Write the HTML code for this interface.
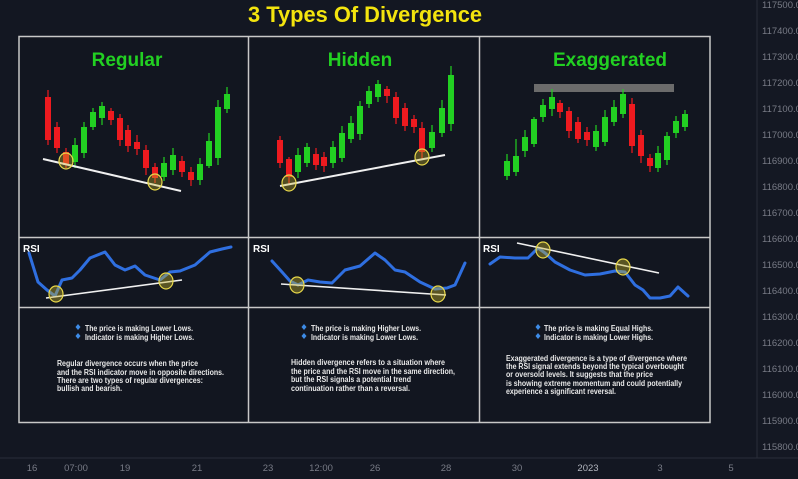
<!DOCTYPE html>
<html><head><meta charset="utf-8"><style>
html,body{margin:0;padding:0;background:#131722;}
svg{display:block;font-family:"Liberation Sans",sans-serif;}
.g rect{fill:#22d022}.r rect{fill:#ee1a1f}
.g line{stroke:#22d022;stroke-width:1.2}.r line{stroke:#ee1a1f;stroke-width:1.2}
.ax{fill:#787b86;font-size:9.5px}
.t{fill:#e8e8e8;font-size:8px;font-weight:bold}
</style></head><body>
<svg width="798" height="479" viewBox="0 0 798 479">
<rect width="798" height="479" fill="#131722"/>
<rect x="757" y="0" width="41" height="458" fill="#141823"/>
<line x1="757" y1="0" x2="757" y2="458" stroke="#2a2e39"/>
<line x1="0" y1="458" x2="798" y2="458" stroke="#2a2e39"/>
<g class="ax">
<text x="762" y="8">117500.0</text><text x="762" y="34">117400.0</text><text x="762" y="60">117300.0</text><text x="762" y="86">117200.0</text><text x="762" y="112">117100.0</text><text x="762" y="138">117000.0</text><text x="762" y="164">116900.0</text><text x="762" y="190">116800.0</text><text x="762" y="216">116700.0</text><text x="762" y="242">116600.0</text><text x="762" y="268">116500.0</text><text x="762" y="294">116400.0</text><text x="762" y="320">116300.0</text><text x="762" y="346">116200.0</text><text x="762" y="372">116100.0</text><text x="762" y="398">116000.0</text><text x="762" y="424">115900.0</text><text x="762" y="450">115800.0</text>
<g text-anchor="middle"><text x="32" y="471">16</text><text x="76" y="471">07:00</text><text x="125" y="471">19</text><text x="197" y="471">21</text><text x="268" y="471">23</text><text x="321" y="471">12:00</text><text x="375" y="471">26</text><text x="446" y="471">28</text><text x="517" y="471">30</text><text x="588" y="471" fill="#b2b5be">2023</text><text x="660" y="471">3</text><text x="731" y="471">5</text></g>
</g>
<text x="365" y="22" text-anchor="middle" fill="#f3e40e" font-size="22" font-weight="bold" textLength="234" lengthAdjust="spacingAndGlyphs">3 Types Of Divergence</text>
<rect x="19" y="36.5" width="691" height="386" fill="#121620" stroke="#c8c8c8" stroke-width="1.5"/>
<line x1="248.5" y1="36" x2="248.5" y2="423" stroke="#c8c8c8" stroke-width="1.5"/>
<line x1="479.5" y1="36" x2="479.5" y2="423" stroke="#c8c8c8" stroke-width="1.5"/>
<line x1="19" y1="237.5" x2="710" y2="237.5" stroke="#c8c8c8" stroke-width="1.5"/>
<line x1="19" y1="307.5" x2="710" y2="307.5" stroke="#c8c8c8" stroke-width="1.5"/>
<g fill="#22d022" font-size="19" font-weight="bold" text-anchor="middle">
<text x="127" y="66">Regular</text><text x="360" y="66">Hidden</text><text x="610" y="66">Exaggerated</text></g>
<rect x="534" y="84" width="140" height="8" fill="#6b6b6b"/>
<g class="r">
<line x1="48" y1="90" x2="48" y2="145"/><rect x="45" y="97" width="6" height="43"/>
<line x1="57" y1="122" x2="57" y2="153"/><rect x="54" y="127" width="6" height="21"/>
<line x1="66" y1="148" x2="66" y2="168"/><rect x="63" y="152" width="6" height="13"/>
<line x1="111" y1="108" x2="111" y2="125"/><rect x="108" y="111" width="6" height="9"/>
<line x1="120" y1="114" x2="120" y2="146"/><rect x="117" y="118" width="6" height="22"/>
<line x1="128" y1="125" x2="128" y2="152"/><rect x="125" y="130" width="6" height="16"/>
<line x1="137" y1="135" x2="137" y2="155"/><rect x="134" y="142" width="6" height="7"/>
<line x1="146" y1="145" x2="146" y2="175"/><rect x="143" y="150" width="6" height="18"/>
<line x1="155" y1="163" x2="155" y2="183"/><rect x="152" y="167" width="6" height="11"/>
<line x1="182" y1="156" x2="182" y2="177"/><rect x="179" y="161" width="6" height="11"/>
<line x1="191" y1="167" x2="191" y2="186"/><rect x="188" y="172" width="6" height="8"/>
</g>
<g class="g">
<line x1="75" y1="138" x2="75" y2="168"/><rect x="72" y="145" width="6" height="17"/>
<line x1="84" y1="122" x2="84" y2="158"/><rect x="81" y="127" width="6" height="26"/>
<line x1="93" y1="108" x2="93" y2="130"/><rect x="90" y="112" width="6" height="15"/>
<line x1="102" y1="102" x2="102" y2="125"/><rect x="99" y="106" width="6" height="12"/>
<line x1="164" y1="157" x2="164" y2="181"/><rect x="161" y="163" width="6" height="14"/>
<line x1="173" y1="148" x2="173" y2="175"/><rect x="170" y="155" width="6" height="15"/>
<line x1="200" y1="158" x2="200" y2="185"/><rect x="197" y="164" width="6" height="16"/>
<line x1="209" y1="133" x2="209" y2="168"/><rect x="206" y="141" width="6" height="25"/>
<line x1="218" y1="100" x2="218" y2="165"/><rect x="215" y="107" width="6" height="51"/>
<line x1="227" y1="87" x2="227" y2="113"/><rect x="224" y="94" width="6" height="15"/>
</g>
<line x1="43" y1="159" x2="181" y2="191" stroke="#f0f0f0" stroke-width="2"/>
<g class="r">
<line x1="280" y1="136" x2="280" y2="168"/><rect x="277" y="140" width="6" height="23"/>
<line x1="289" y1="157" x2="289" y2="185"/><rect x="286" y="159" width="6" height="18"/>
<line x1="316" y1="148" x2="316" y2="170"/><rect x="313" y="154" width="6" height="11"/>
<line x1="324" y1="152" x2="324" y2="172"/><rect x="321" y="157" width="6" height="9"/>
<line x1="387" y1="86" x2="387" y2="103"/><rect x="384" y="89" width="6" height="7"/>
<line x1="396" y1="92" x2="396" y2="124"/><rect x="393" y="97" width="6" height="21"/>
<line x1="405" y1="103" x2="405" y2="131"/><rect x="402" y="108" width="6" height="18"/>
<line x1="414" y1="115" x2="414" y2="133"/><rect x="411" y="119" width="6" height="8"/>
<line x1="422" y1="122" x2="422" y2="160"/><rect x="419" y="128" width="6" height="24"/>
</g>
<g class="g">
<line x1="298" y1="148" x2="298" y2="178"/><rect x="295" y="155" width="6" height="17"/>
<line x1="307" y1="143" x2="307" y2="167"/><rect x="304" y="147" width="6" height="16"/>
<line x1="333" y1="141" x2="333" y2="168"/><rect x="330" y="147" width="6" height="16"/>
<line x1="342" y1="126" x2="342" y2="162"/><rect x="339" y="133" width="6" height="25"/>
<line x1="351" y1="116" x2="351" y2="143"/><rect x="348" y="123" width="6" height="16"/>
<line x1="360" y1="101" x2="360" y2="140"/><rect x="357" y="106" width="6" height="28"/>
<line x1="369" y1="86" x2="369" y2="108"/><rect x="366" y="91" width="6" height="13"/>
<line x1="378" y1="80" x2="378" y2="102"/><rect x="375" y="84" width="6" height="13"/>
<line x1="432" y1="125" x2="432" y2="152"/><rect x="429" y="132" width="6" height="16"/>
<line x1="442" y1="100" x2="442" y2="137"/><rect x="439" y="108" width="6" height="25"/>
<line x1="451" y1="66" x2="451" y2="131"/><rect x="448" y="75" width="6" height="49"/>
</g>
<line x1="280" y1="186" x2="445" y2="155" stroke="#f0f0f0" stroke-width="2"/>
<g class="g">
<line x1="507" y1="154" x2="507" y2="180"/><rect x="504" y="161" width="6" height="15"/>
<line x1="516" y1="139" x2="516" y2="176"/><rect x="513" y="156" width="6" height="16"/>
<line x1="525" y1="130" x2="525" y2="157"/><rect x="522" y="137" width="6" height="14"/>
<line x1="534" y1="117" x2="534" y2="147"/><rect x="531" y="119" width="6" height="25"/>
<line x1="543" y1="99" x2="543" y2="122"/><rect x="540" y="105" width="6" height="12"/>
<line x1="552" y1="89" x2="552" y2="116"/><rect x="549" y="97" width="6" height="12"/>
<line x1="596" y1="125" x2="596" y2="151"/><rect x="593" y="131" width="6" height="16"/>
<line x1="605" y1="110" x2="605" y2="146"/><rect x="602" y="117" width="6" height="25"/>
<line x1="614" y1="100" x2="614" y2="126"/><rect x="611" y="107" width="6" height="15"/>
<line x1="623" y1="89" x2="623" y2="118"/><rect x="620" y="94" width="6" height="20"/>
<line x1="658" y1="146" x2="658" y2="172"/><rect x="655" y="153" width="6" height="15"/>
<line x1="667" y1="132" x2="667" y2="165"/><rect x="664" y="136" width="6" height="24"/>
<line x1="676" y1="116" x2="676" y2="138"/><rect x="673" y="121" width="6" height="12"/>
<line x1="685" y1="110" x2="685" y2="131"/><rect x="682" y="114" width="6" height="13"/>
</g>
<g class="r">
<line x1="560" y1="100" x2="560" y2="118"/><rect x="557" y="103" width="6" height="9"/>
<line x1="569" y1="107" x2="569" y2="138"/><rect x="566" y="111" width="6" height="20"/>
<line x1="578" y1="117" x2="578" y2="143"/><rect x="575" y="122" width="6" height="17"/>
<line x1="587" y1="127" x2="587" y2="146"/><rect x="584" y="132" width="6" height="8"/>
<line x1="632" y1="98" x2="632" y2="153"/><rect x="629" y="104" width="6" height="42"/>
<line x1="641" y1="130" x2="641" y2="163"/><rect x="638" y="135" width="6" height="21"/>
<line x1="650" y1="154" x2="650" y2="172"/><rect x="647" y="158" width="6" height="8"/>
</g>
<g fill="rgba(200,180,40,0.35)" stroke="#e8d84a" stroke-width="1.2">
<ellipse cx="66" cy="161" rx="7" ry="8"/><ellipse cx="155" cy="182" rx="7" ry="8"/>
<ellipse cx="289" cy="183" rx="7" ry="8"/><ellipse cx="422" cy="157" rx="7" ry="8"/>
</g>
<g fill="#ffffff" font-size="10" font-weight="bold"><text x="23" y="252">RSI</text><text x="253" y="252">RSI</text><text x="483" y="252">RSI</text></g>
<g fill="none" stroke="#2f6fe0" stroke-width="3" stroke-linejoin="round" stroke-linecap="round">
<polyline points="29,253 38,282 47,290 55,296 62,280 72,278 80,270 90,258 105,252 115,265 125,270 135,266 145,275 160,280 170,272 180,271 195,265 210,252 222,249 231,247"/>
<polyline points="272,261 282,272 290,281 298,285 308,280 320,282 332,283 345,270 360,266 375,253 385,260 395,270 405,272 420,282 435,289 447,288 455,285 465,263"/>
<polyline points="490,264 500,257 515,258 528,258 538,248 545,253 555,262 570,270 585,275 600,274 615,271 625,272 635,285 643,290 650,298 660,298 670,296 678,287 688,296"/>
</g>
<g stroke="#f0f0f0" stroke-width="1.6">
<line x1="46" y1="298" x2="182" y2="280"/><line x1="281" y1="284" x2="446" y2="295"/><line x1="517" y1="243" x2="659" y2="273"/></g>
<g fill="rgba(200,180,40,0.4)" stroke="#e8d84a" stroke-width="1.2">
<ellipse cx="56" cy="294" rx="7" ry="8"/><ellipse cx="166" cy="281" rx="7" ry="8"/>
<ellipse cx="297" cy="285" rx="7" ry="8"/><ellipse cx="438" cy="294" rx="7" ry="8"/>
<ellipse cx="543" cy="250" rx="7" ry="8"/><ellipse cx="623" cy="267" rx="7" ry="8"/>
</g>
<g fill="#3d8be6">
<path d="M78,324 l2.5,3 l-2.5,3 l-2.5,-3z"/><path d="M78,333 l2.5,3 l-2.5,3 l-2.5,-3z"/>
<path d="M304,324 l2.5,3 l-2.5,3 l-2.5,-3z"/><path d="M304,333 l2.5,3 l-2.5,3 l-2.5,-3z"/>
<path d="M538,324 l2.5,3 l-2.5,3 l-2.5,-3z"/><path d="M538,333 l2.5,3 l-2.5,3 l-2.5,-3z"/>
</g>
<g class="t" lengthAdjust="spacingAndGlyphs">
<text x="85" y="331" textLength="108" lengthAdjust="spacingAndGlyphs">The price is making Lower Lows.</text>
<text x="85" y="340" textLength="109" lengthAdjust="spacingAndGlyphs">Indicator is making Higher Lows.</text>
<text x="57" y="366" textLength="141" lengthAdjust="spacingAndGlyphs">Regular divergence occurs when the price</text>
<text x="57" y="375" textLength="167" lengthAdjust="spacingAndGlyphs">and the RSI indicator move in opposite directions.</text>
<text x="57" y="383" textLength="146" lengthAdjust="spacingAndGlyphs">There are two types of regular divergences:</text>
<text x="57" y="391" textLength="65" lengthAdjust="spacingAndGlyphs">bullish and bearish.</text>
<text x="311" y="331" textLength="110" lengthAdjust="spacingAndGlyphs">The price is making Higher Lows.</text>
<text x="311" y="340" textLength="107" lengthAdjust="spacingAndGlyphs">Indicator is making Lower Lows.</text>
<text x="291" y="365" textLength="154" lengthAdjust="spacingAndGlyphs">Hidden divergence refers to a situation where</text>
<text x="291" y="374" textLength="164" lengthAdjust="spacingAndGlyphs">the price and the RSI move in the same direction,</text>
<text x="291" y="382" textLength="120" lengthAdjust="spacingAndGlyphs">but the RSI signals a potential trend</text>
<text x="291" y="391" textLength="119" lengthAdjust="spacingAndGlyphs">continuation rather than a reversal.</text>
<text x="544" y="331" textLength="109" lengthAdjust="spacingAndGlyphs">The price is making Equal Highs.</text>
<text x="544" y="340" textLength="109" lengthAdjust="spacingAndGlyphs">Indicator is making Lower Highs.</text>
<text x="506" y="361" textLength="181" lengthAdjust="spacingAndGlyphs">Exaggerated divergence is a type of divergence where</text>
<text x="506" y="369" textLength="178" lengthAdjust="spacingAndGlyphs">the RSI signal extends beyond the typical overbought</text>
<text x="506" y="377" textLength="147" lengthAdjust="spacingAndGlyphs">or oversold levels. It suggests that the price</text>
<text x="506" y="386" textLength="176" lengthAdjust="spacingAndGlyphs">is showing extreme momentum and could potentially</text>
<text x="506" y="394" textLength="110" lengthAdjust="spacingAndGlyphs">experience a significant reversal.</text>
</g>
</svg>
</body></html>
